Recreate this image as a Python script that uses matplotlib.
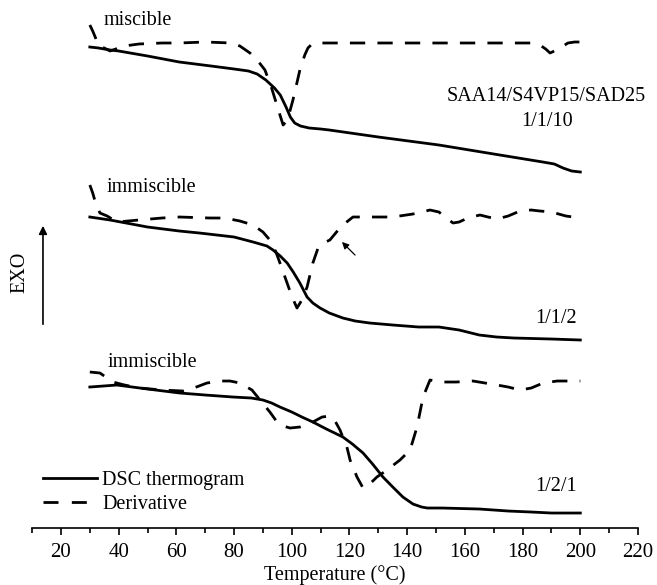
import matplotlib
matplotlib.use("Agg")
import matplotlib.pyplot as plt
from matplotlib.lines import Line2D

plt.rcParams['font.family'] = ['Liberation Serif', 'DejaVu Serif']
plt.rcParams['font.size'] = 14.5

# heat flow in arbitrary units (curves are offset vertically)
# 1/1/10 (top)
t_top = [30, 33, 37, 40, 50, 61, 72, 80, 85, 88, 91, 94, 96, 98, 99.5, 101, 103, 106, 110, 113,
         130, 151, 170, 187, 191, 194, 197, 200]
y_top = [481, 480, 478, 477, 472, 466, 462, 459, 457, 454, 448, 440, 433, 421, 411, 405, 402, 400, 399, 398,
         391, 383, 374, 366, 364, 360, 357, 356]
td_top = [30, 31, 32, 33, 35, 37, 39, 42, 47, 55, 61, 70, 79, 82, 85.5, 88, 90.7, 93, 95.9, 97, 98.5,
          100.4, 102.8, 104.5, 105.6, 107, 109, 112, 130, 150, 170, 184, 186.5, 188, 189.5, 191, 193,
          195.7, 198, 200]
yd_top = [503, 497, 490, 482, 480, 477, 479, 482, 484, 485, 485, 486, 485, 482, 475, 468, 458, 440, 413, 403, 408,
          428, 458, 473, 480, 484, 485, 485, 485, 485, 485, 485, 482, 479, 475, 477, 480,
          485, 486, 486]

# 1/1/2 (middle)
t_mid = [30, 37, 50, 61, 68, 80, 86.6, 91.4, 93.5, 96, 98.4, 100.5, 102.8, 105.3, 107.3, 109.8, 113, 117.7,
         122, 127, 135, 144, 151, 158, 165, 171, 177, 190, 200]
y_mid = [311, 308, 301, 297, 295, 291, 286, 282, 278, 272, 265, 256, 245, 231, 225, 220, 215, 210,
         207, 205, 203, 201, 201, 198, 193, 191, 190, 189, 188]
td_mid = [30, 31, 32, 33.5, 36, 39.4, 47, 55, 61, 71.6, 76.8, 82, 86.6, 90, 92.4, 94.5, 95.9, 98, 100.1,
          101.8, 103.5, 105.3, 107.3, 109.1, 111, 113.2, 115.5, 117.7, 121.2, 127, 135, 142, 147.9, 151,
          153.5, 155.9, 158, 161, 165.2, 168, 171.1, 175, 179.1, 183, 186, 190, 195, 200]
yd_mid = [343, 335, 325, 315, 312, 306, 308, 310, 311, 310, 310, 307, 303, 296, 288, 276, 265, 248, 231,
          220, 228, 241, 265, 280, 285, 288, 296, 303, 311, 311, 311, 314, 318, 316,
          310, 305, 306, 310, 313, 311, 309, 312, 317, 318, 317, 316, 312, 310]

# 1/2/1 (bottom)
t_bot = [30, 39.4, 50, 61.2, 70, 79.6, 86, 90, 93, 95.9, 100, 103.5, 107.3, 112, 117.7, 121, 124.7, 128,
         131.6, 135, 138.5, 142, 145, 147, 152, 165, 175, 183, 190, 200]
y_bot = [141, 143, 139, 135, 133, 131, 130, 128, 125, 121, 116, 111, 106, 99, 91, 84, 75, 64,
         51, 41, 31, 24, 21, 20, 20, 19, 17, 16, 15, 15]
td_bot = [30, 33.5, 36, 38, 42, 47.4, 55, 62.3, 66, 70.6, 75, 78.6, 82, 86.2, 89, 92.4, 94.9, 97, 99.4,
          102.8, 107.3, 110.5, 113.2, 115, 116.7, 119.1, 120.2, 122.6, 124.7, 127, 129.5, 133, 137.5, 141,
          143.4, 145.5, 147.9, 151.4, 157, 162.8, 167, 171.1, 175, 179.1, 183, 187.1, 192, 197.5, 200]
yd_bot = [156, 155, 150, 146, 143, 140, 138, 137, 140, 145, 147, 147, 145, 138, 128, 116, 106, 102, 100,
          101, 106, 111, 112, 107, 98, 81, 68, 51, 40, 44, 51, 58, 68, 78,
          101, 131, 148, 146, 146, 147, 145, 143, 141, 138, 140, 145, 147, 147, 147]

xticks = list(range(20, 221, 20))

fig = plt.figure(figsize=(6.57, 5.85), dpi=100)
ax = fig.add_axes([0.0489, 0.0974, 0.9222, 0.9026])

lw = 2.0
dash = (5.5, 4.4)
for t, y in [(t_top, y_top), (t_mid, y_mid), (t_bot, y_bot)]:
    ax.plot(t, y, color='black', lw=lw, solid_joinstyle='round')
for t, y in [(td_top, yd_top), (td_mid, yd_mid), (td_bot, yd_bot)]:
    ax.plot(t, y, color='black', lw=lw, dashes=dash)

ax.set_xlim(10, 220)
ax.set_ylim(0, 528)
for s in ['left', 'right', 'top']:
    ax.spines[s].set_visible(False)
ax.spines['bottom'].set_linewidth(1.2)
ax.set_yticks([])
ax.set_xticks(xticks)
ax.set_xticks(list(range(10, 220, 20)), minor=True)
ax.tick_params(axis='x', which='major', length=5, width=1.2, direction='out', labelsize=15, pad=6)
ax.tick_params(axis='x', which='minor', length=3.5, width=1.2, direction='out')
ax.set_xlabel('Temperature (\u00b0C)', fontsize=14.5, labelpad=2)

ax.text(34.6, 508, 'miscible', ha='left', va='center', fontsize=14.5)
ax.text(35.9, 341, 'immiscible', ha='left', va='center', fontsize=14.5)
ax.text(36.3, 166, 'immiscible', ha='left', va='center', fontsize=14.5)
ax.text(188.1, 432, 'SAA14/S4VP15/SAD25', ha='center', va='center', fontsize=14.5)
ax.text(188.3, 407, '1/1/10', ha='center', va='center', fontsize=14.5)
ax.text(198.9, 210, '1/1/2', ha='right', va='center', fontsize=14.5)
ax.text(198.9, 42, '1/2/1', ha='right', va='center', fontsize=14.5)

# EXO arrow
ax.annotate('', xy=(13.76, 305), xytext=(13.76, 201), annotation_clip=False,
            arrowprops=dict(arrowstyle='-|>', color='black', lw=1.2, mutation_scale=12))
ax.text(5.8, 256, 'EXO', rotation=90, ha='center', va='center', fontsize=14.5, clip_on=False)

# shoulder arrow
ax.annotate('', xy=(116.7, 288), xytext=(122.6, 271),
            arrowprops=dict(arrowstyle='-|>', color='black', lw=0.9, mutation_scale=10))

handles = [Line2D([], [], color='black', lw=lw),
           Line2D([], [], color='black', lw=lw, dashes=(5.4, 4.8))]
ax.legend(handles, ['DSC thermogram', 'Derivative'], loc='upper left',
          bbox_to_anchor=(0.0179, 0.108), frameon=False, borderaxespad=0, borderpad=0,
          handlelength=2.7, handletextpad=0.25, labelspacing=0.25, fontsize=14.5)

fig.savefig('out.png', dpi=100)
